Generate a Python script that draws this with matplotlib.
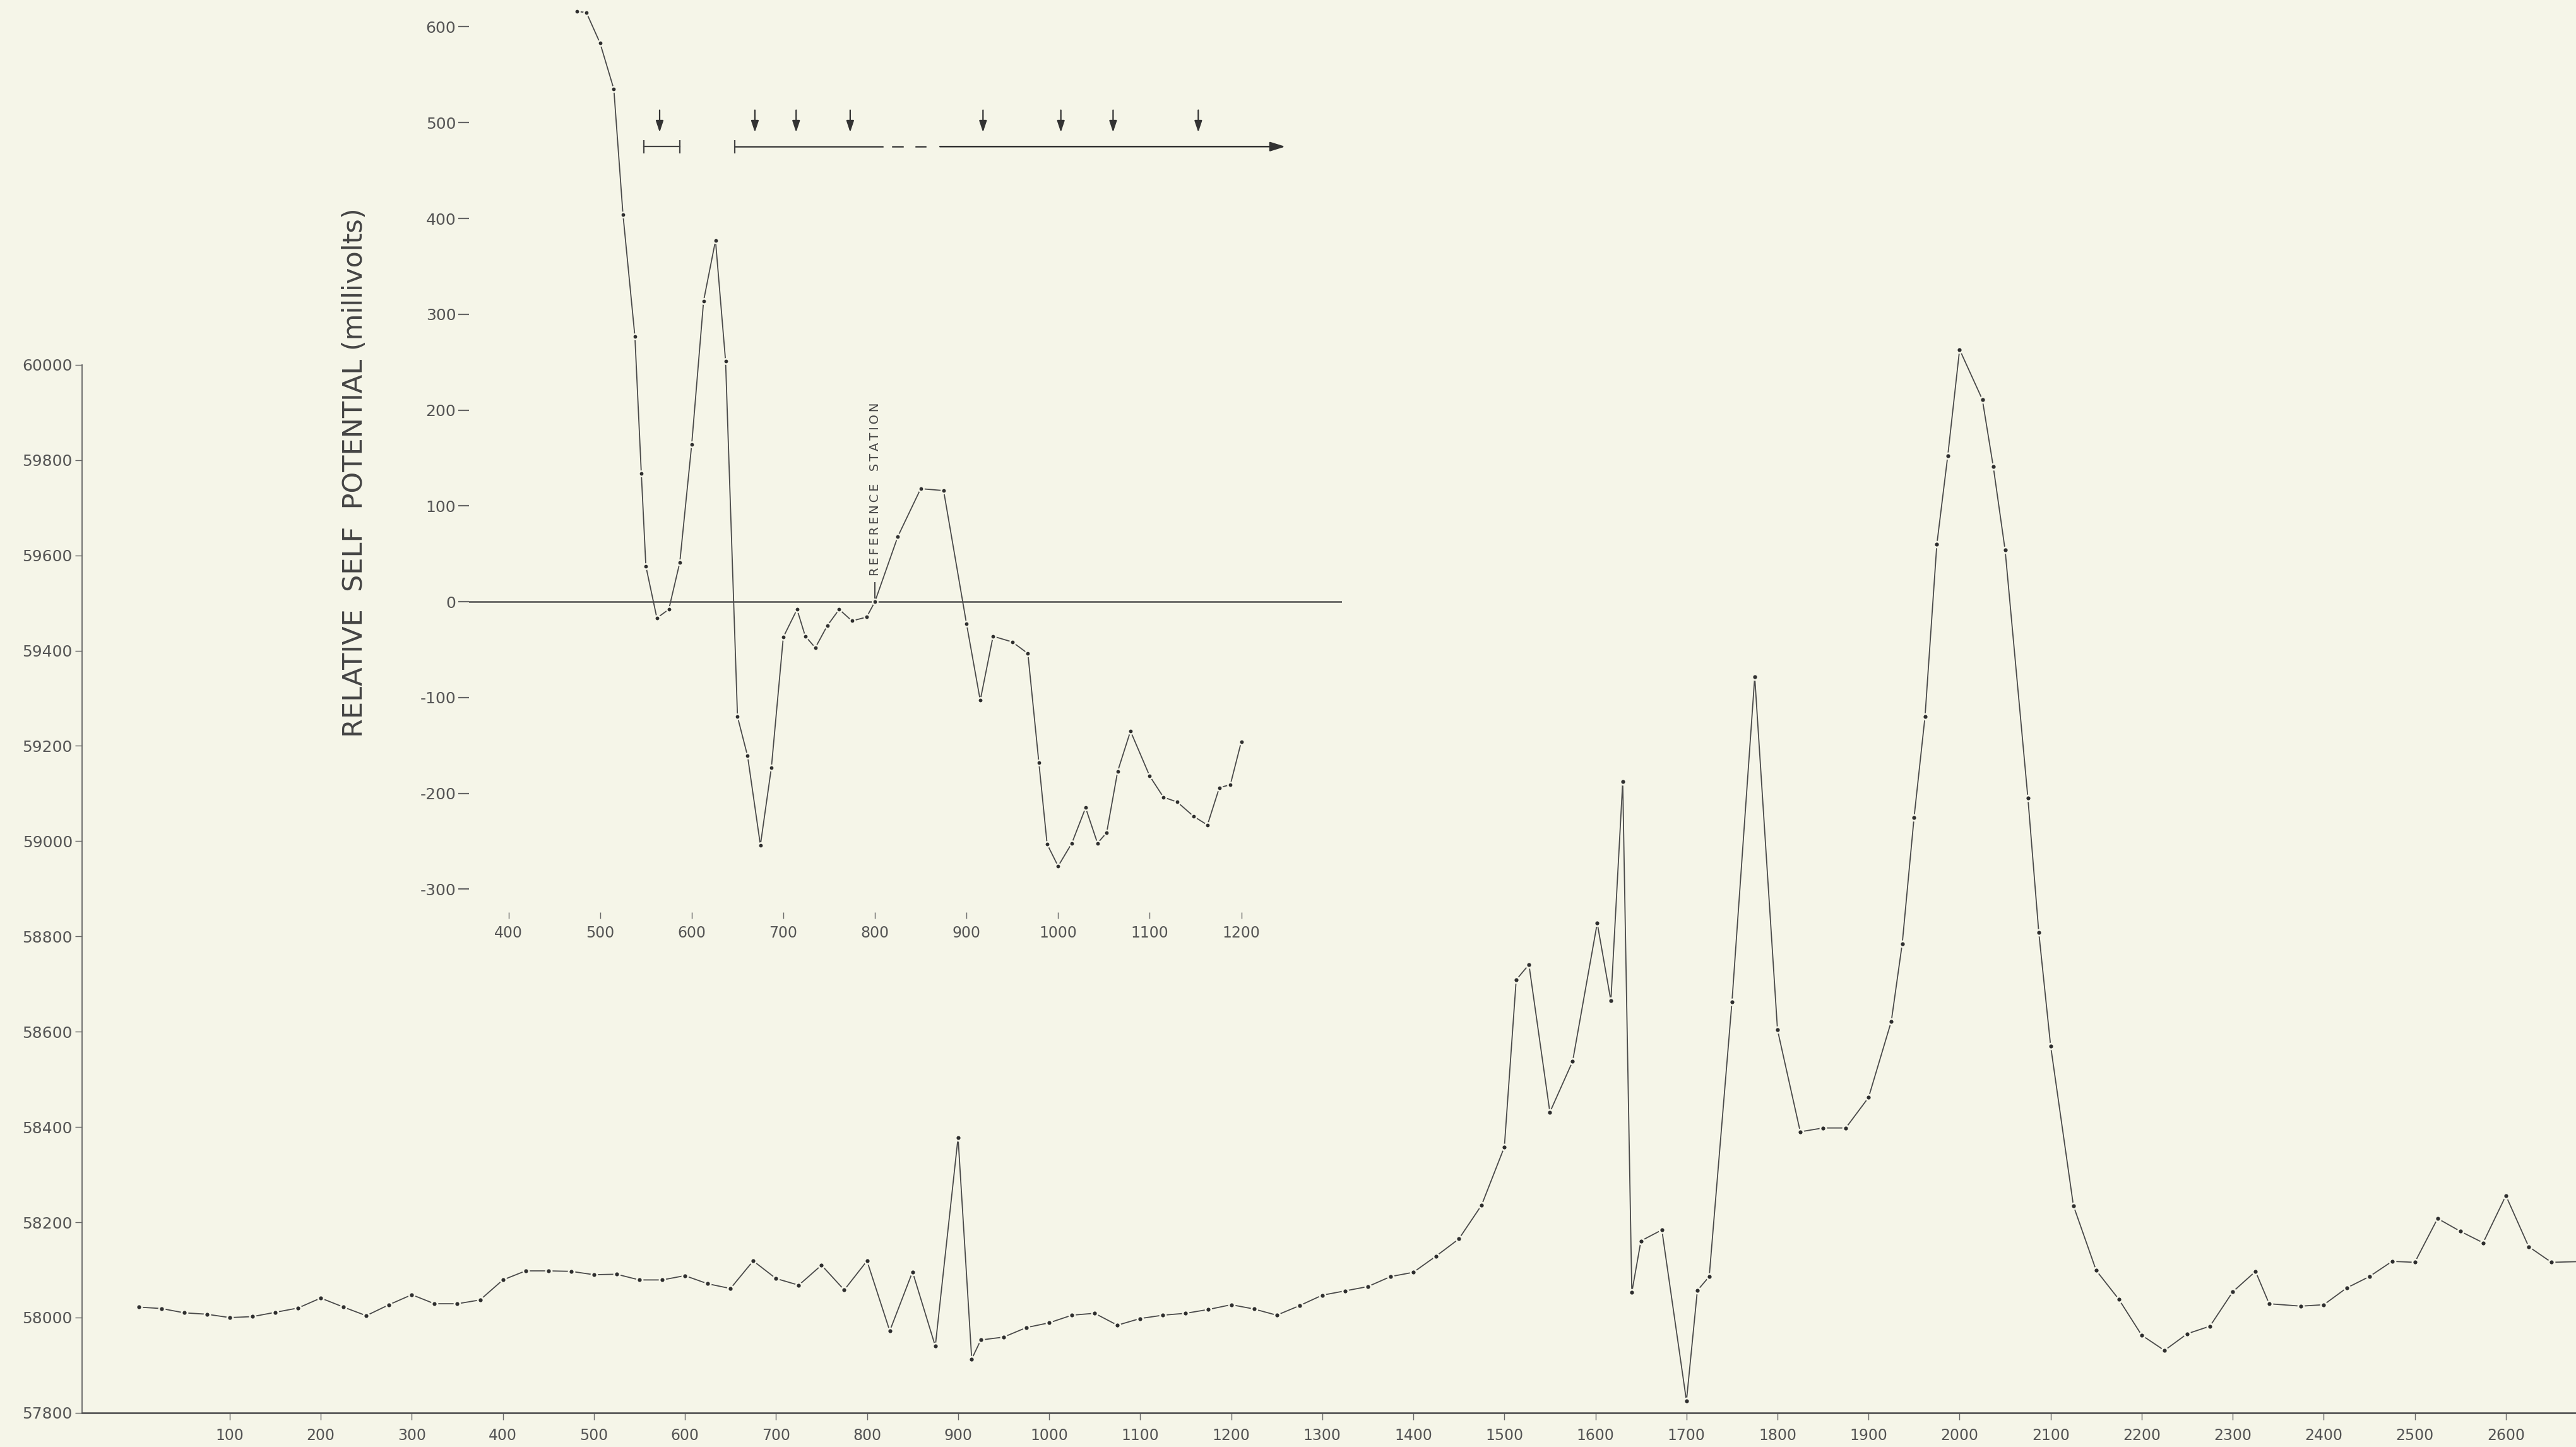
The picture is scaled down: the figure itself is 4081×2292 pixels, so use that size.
import matplotlib
matplotlib.use("Agg")
import matplotlib.pyplot as plt

# ---- main profile: total magnetic field (gammas) along the traverse ----
stations = [0, 25, 50, 75, 100, 125, 150, 175, 200, 225, 250, 275, 300, 325, 350, 375,
            400, 425, 450, 475, 500, 525, 550, 575, 600, 625, 650, 675, 700, 725, 750, 775,
            800, 825, 850, 875, 900, 915, 925, 950, 975, 1000, 1025, 1050, 1075, 1100, 1125,
            1150, 1175, 1200, 1225, 1250, 1275, 1300, 1325, 1350, 1375, 1400, 1425, 1450,
            1475, 1500, 1513, 1527, 1550, 1575, 1602, 1617, 1630, 1640, 1650, 1673, 1700,
            1712, 1725, 1750, 1775, 1800, 1825, 1850, 1875, 1900, 1925, 1937, 1950, 1962,
            1975, 1987, 2000, 2025, 2037, 2050, 2075, 2087, 2100, 2125, 2150, 2175, 2200,
            2225, 2250, 2275, 2300, 2325, 2340, 2375, 2400, 2425, 2450, 2475, 2500, 2525,
            2550, 2575, 2600, 2625, 2650, 2690]
field = [58022, 58019, 58010, 58007, 58000, 58002, 58011, 58020, 58041, 58022, 58004, 58027,
         58048, 58029, 58029, 58037, 58079, 58098, 58098, 58097, 58090, 58091, 58079, 58079,
         58088, 58071, 58061, 58119, 58082, 58068, 58110, 58058, 58119, 57972, 58096, 57940,
         58378, 57913, 57953, 57959, 57979, 57989, 58005, 58009, 57984, 57998, 58005, 58009,
         58017, 58027, 58018, 58005, 58025, 58047, 58056, 58065, 58086, 58095, 58129, 58165,
         58236, 58358, 58709, 58741, 58431, 58538, 58828, 58665, 59125, 58053, 58161, 58184,
         57825, 58057, 58086, 58663, 59345, 58604, 58390, 58398, 58398, 58462, 58622, 58785,
         59050, 59261, 59623, 59809, 60032, 59927, 59786, 59611, 59091, 58808, 58570, 58235,
         58099, 58038, 57963, 57931, 57966, 57982, 58054, 58097, 58029, 58024, 58027, 58062,
         58086, 58118, 58116, 58208, 58181, 58157, 58256, 58149, 58116, 58118]

# ---- inset: relative self potential (millivolts) ----
sp_stations = [475, 485, 500, 515, 525, 538, 545, 550, 562, 575, 587, 600, 613, 626, 637,
               650, 661, 675, 687, 700, 715, 724, 735, 748, 761, 775, 791, 800, 825, 850,
               875, 900, 915, 929, 950, 967, 979, 988, 1000, 1015, 1030, 1043, 1053, 1065,
               1079, 1100, 1115, 1130, 1148, 1163, 1176, 1188, 1200]
sp_mv = [616, 615, 583, 535, 404, 277, 134, 37, -17, -8, 41, 164, 314, 377, 251,
         -120, -161, -254, -173, -37, -8, -36, -48, -25, -8, -20, -16, 0, 68, 118,
         116, -23, -103, -36, -42, -54, -168, -253, -276, -252, -215, -252, -241, -177,
         -135, -182, -204, -209, -224, -233, -194, -191, -146]

arrow_stations = [565, 669, 714, 773, 918, 1003, 1060, 1153]
short_bar = [548, 587]
long_bar_solid = [(647, 808)]
long_bar_dashes = [(819, 830), (845, 855)]
long_bar_arrow = [871, 1248]
reference_station = 800

main_yticks = list(range(57800, 60001, 200))
main_xticks = list(range(100, 2601, 100))
sp_xticks = list(range(400, 1201, 100))
sp_yticks = list(range(-300, 601, 100))

bg = "#f5f5e8"
ink = "#4a4a4a"
txt = "#555555"

fig = plt.figure(figsize=(40.81, 22.92), dpi=100)
fig.patch.set_facecolor(bg)

# main axes
ax = fig.add_axes([0.0319, 0.0236, 0.9681, 0.7243])
ax.set_facecolor("none")
ax.plot(stations, field, color=ink, lw=1.3, marker="o", ms=6.5, mfc="#2e2e2e",
        mec=bg, mew=2.0, zorder=3, clip_on=False)
ax.set_xlim(-62, 2677)
ax.set_ylim(57800, 60000)
ax.set_xticks(main_xticks)
ax.set_yticks(main_yticks)
ax.set_yticklabels([str(v) for v in main_yticks])
for s in ["top", "right"]:
    ax.spines[s].set_visible(False)
ax.spines["left"].set_linewidth(1.3)
ax.spines["left"].set_color("#666666")
ax.spines["bottom"].set_linewidth(2.0)
ax.spines["bottom"].set_color("#555555")
ax.tick_params(axis="y", length=8, width=1.0, color="#666666", pad=3,
               labelsize=18, labelcolor=txt)
ax.tick_params(axis="x", length=8, width=1.0, color="#666666", pad=9,
               labelsize=17, labelcolor=txt)

# inset axes (self potential)
ins = fig.add_axes([0.1821, 0.3696, 0.3389, 0.6304])
ins.set_facecolor("none")
for s in ins.spines.values():
    s.set_visible(False)
ins.set_xlim(357, 1310)
ins.set_ylim(-324, 628)
ins.axhline(0, color="#505050", lw=1.8, zorder=1)
ins.plot(sp_stations, sp_mv, color=ink, lw=1.3, marker="o", ms=6.0, mfc="#2e2e2e",
         mec=bg, mew=1.8, zorder=3, clip_on=False)
ins.set_xticks(sp_xticks)
ins.set_yticks(sp_yticks)
ins.set_yticklabels([str(v) for v in sp_yticks])
ins.tick_params(axis="y", length=12, width=1.6, color="#666666", pad=3,
                labelsize=18, labelcolor=txt)
ins.tick_params(axis="x", length=7, width=1.0, color="#666666", pad=8,
                labelsize=17, labelcolor=txt)
ins.set_ylabel("RELATIVE  SELF  POTENTIAL (millivolts)", fontsize=31, color="#444444")
ins.yaxis.set_label_coords(-0.116, 0.482)

# station markers and traverse bars
arrow_kw = dict(arrowstyle="-|>,head_length=0.6,head_width=0.2", color="#333333",
                lw=1.6, shrinkA=0, shrinkB=0, mutation_scale=18)
for s in arrow_stations:
    ins.annotate("", xy=(s, 490), xytext=(s, 513), arrowprops=arrow_kw)

ins.plot(short_bar, [475, 475], color="#444444", lw=1.6)
ins.vlines(short_bar, 468, 482, color="#444444", lw=1.6)
for a, b in long_bar_solid:
    ins.plot([a, b], [475, 475], color="#444444", lw=1.8)
ins.vlines([long_bar_solid[0][0]], 468, 482, color="#444444", lw=1.6)
for a, b in long_bar_dashes:
    ins.plot([a, b], [475, 475], color="#444444", lw=1.8)
ins.annotate("", xy=(long_bar_arrow[1], 475), xytext=(long_bar_arrow[0], 475),
             arrowprops=dict(arrowstyle="-|>,head_length=0.8,head_width=0.25",
                             color="#333333", lw=1.8, shrinkA=0, shrinkB=0,
                             mutation_scale=18))

# reference station label
ref_label = "\u2009".join("REFERENCE") + "\u2002\u2002" + "\u2009".join("STATION")
ins.plot([reference_station, reference_station], [4, 20], color="#444444", lw=1.4)
ins.text(reference_station, 27, ref_label, rotation=90, ha="center",
         va="bottom", fontsize=14, color="#444444")

fig.savefig("out.png", dpi=100, facecolor=bg)
